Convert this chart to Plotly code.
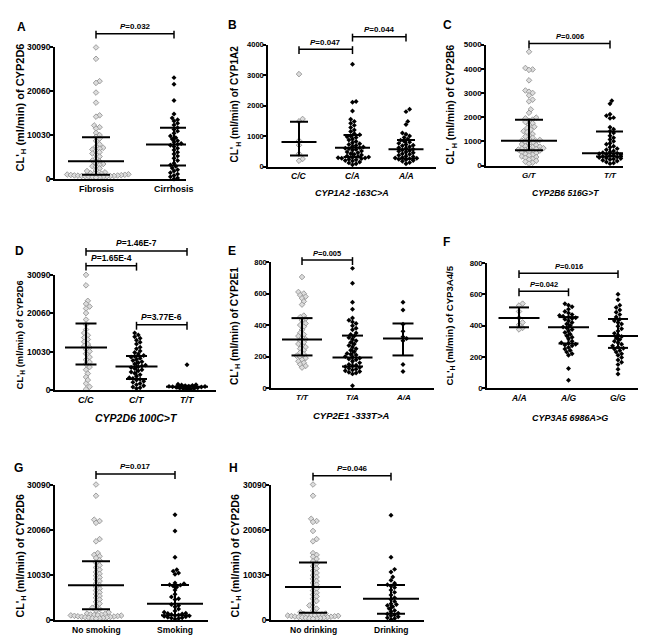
import plotly.graph_objects as go

# ---------------- DATA ----------------
# Panel A: CYP2D6 clearance by liver disease stage
a_cats = ["Fibrosis", "Cirrhosis"]
a_fibrosis = [30090, 27500, 22400, 22000, 19800, 17500, 14600, 14300, 12300, 11900, 11600, 10600, 10100, 9700,
              9300, 8800, 8000, 7500, 7200, 7000, 6800, 6500, 6200, 5900, 5600, 5200, 4800, 4300, 4100, 3700,
              3500, 3300, 3000, 2900, 2500, 2100, 1900, 1600, 1400, 1300, 1250, 1200, 1150, 1100, 1050, 1000,
              950, 900, 880, 850, 800, 780, 750, 700, 680, 650, 600, 550, 500, 450]
a_cirrhosis = [23200, 21700, 18000, 14900, 14000, 13600, 13300, 12800, 12400, 11800, 11400, 11000, 10500, 9900,
               9500, 9200, 8800, 8500, 8200, 8000, 7800, 7500, 7100, 6700, 6200, 5800, 5300, 4800, 4300, 3700,
               3300, 3000, 2600, 2200, 1900, 1500, 1200, 900, 600, 300, 100]
a_median = [4110, 7930]
a_q1 = [1050, 3140]
a_q3 = [9590, 11750]
a_pvals = ["0.032"]

# Panel B: CYP1A2 by -163C>A
b_cats = ["C/C", "C/A", "A/A"]
b_cc = [3030, 1560, 1480, 850, 700, 420, 250, 190]
b_ca = [3350, 2130, 2110, 1820, 1550, 1480, 1420, 1350, 1280, 1200, 1150, 1080, 1040, 1000, 980, 950, 900,
        870, 820, 780, 750, 720, 690, 660, 640, 620, 600, 580, 560, 540, 510, 480, 450, 420, 400, 380, 350,
        330, 310, 300, 290, 280, 270, 260, 240, 220, 200, 180, 150, 120, 90, 60]
b_aa = [1880, 1800, 1480, 1380, 1100, 1060, 1000, 950, 900, 860, 830, 800, 760, 720, 700, 680, 650, 620, 600,
        570, 540, 520, 500, 480, 450, 420, 400, 370, 340, 320, 300, 280, 270, 260, 240, 220, 200, 170, 130, 90]
b_median = [804, 620, 565]
b_q1 = [359, 315, 260]
b_q3 = [1467, 1033, 870]
b_pvals = ["0.047", "0.044"]

# Panel C: CYP2B6 by 516G>T
c_cats = ["G/T", "T/T"]
c_gt = [4700, 4030, 3970, 3950, 3520, 3100, 3050, 3000, 2900, 2720, 2650, 2320, 2180, 1980, 1950, 1900, 1850,
        1800, 1750, 1680, 1600, 1550, 1480, 1420, 1380, 1300, 1250, 1200, 1150, 1100, 1060, 1030, 1000, 980,
        950, 920, 880, 850, 800, 780, 760, 740, 720, 700, 680, 660, 640, 620, 600, 580, 550, 520, 480, 450,
        420, 380, 350, 320, 280, 250, 200, 160, 120, 80]
c_tt = [2680, 2550, 2120, 2060, 1980, 1950, 1580, 1500, 1420, 1350, 1230, 1150, 1080, 1000, 920, 880, 800,
        760, 700, 650, 600, 560, 530, 510, 490, 470, 450, 430, 410, 390, 370, 350, 330, 310, 290, 270, 250,
        220, 190, 150, 110, 80]
c_median = [1027, 513]
c_q1 = [635, 378]
c_q3 = [1890, 1405]
c_pvals = ["0.006"]

# Panel D: CYP2D6 by 100C>T
d_cats = ["C/C", "C/T", "T/T"]
d_cc = [30090, 27350, 23300, 22500, 21800, 21300, 20100, 18400, 17100, 15800, 14900, 14300, 13700, 13200,
        12600, 12000, 11500, 11100, 10600, 10100, 9500, 8600, 7900, 7300, 6800, 6000, 5300, 4300, 3400, 2600,
        1700, 850, 200]
d_ct = [14900, 14400, 13900, 13500, 13000, 12500, 12000, 11200, 10800, 10200, 9800, 9400, 9000, 8800, 8600,
        8300, 8000, 7700, 7400, 7100, 6800, 6500, 6300, 6100, 5900, 5600, 5300, 5000, 4700, 4400, 4000, 3600,
        3200, 3000, 2800, 2600, 2300, 2000, 1700, 1400, 1100, 800, 600, 400]
d_tt = [6600, 1500, 1400, 1300, 1200, 1100, 1000, 950, 900, 850, 800, 700, 600, 500, 400, 300, 200, 100]
d_median = [11115, 6155, 855]
d_q1 = [6670, 2907, 430]
d_q3 = [17360, 8890, 1110]
d_pvals = ["1.46E-7", "1.65E-4", "3.77E-6"]

# Panel E: CYP2E1 by -333T>A
e_cats = ["T/T", "T/A", "A/A"]
e_tt = [705, 610, 600, 590, 580, 570, 550, 530, 460, 450, 440, 430, 410, 400, 390, 370, 350, 340, 330, 320,
        310, 300, 290, 280, 270, 260, 250, 240, 225, 215, 205, 200, 190, 180, 170, 160, 150, 140, 130]
e_ta = [760, 665, 545, 500, 445, 430, 420, 410, 395, 380, 370, 350, 340, 330, 320, 310, 300, 290, 280, 270,
        260, 250, 240, 230, 220, 215, 210, 200, 195, 190, 185, 180, 170, 160, 150, 145, 140, 135, 130, 125,
        120, 115, 110, 105, 100, 95, 90, 15]
e_aa = [545, 495, 405, 360, 325, 315, 300, 150, 105]
e_median = [308, 194, 314]
e_q1 = [207, 137, 207]
e_q3 = [444, 333, 410]
e_pvals = ["0.005"]

# Panel F: CYP3A4/5 by CYP3A5 6986A>G
f_cats = ["A/A", "A/G", "G/G"]
f_aa = [540, 528, 490, 450, 420, 405, 385, 375]
f_ag = [540, 530, 520, 505, 490, 480, 470, 465, 460, 455, 450, 445, 440, 430, 420, 410, 400, 390, 385, 375,
        365, 355, 345, 335, 325, 315, 300, 290, 285, 280, 275, 270, 260, 250, 240, 230, 220, 210, 125, 50]
f_gg = [600, 565, 530, 515, 500, 485, 470, 455, 440, 430, 420, 410, 395, 380, 365, 350, 340, 330, 320, 310,
        300, 290, 280, 270, 262, 255, 250, 240, 230, 220, 210, 195, 180, 165, 150, 120, 90]
f_median = [448, 389, 333]
f_q1 = [389, 285, 257]
f_q3 = [516, 454, 442]
f_pvals = ["0.016", "0.042"]

# Panel G: CYP2D6 by smoking
g_cats = ["No smoking", "Smoking"]
g_no = [30090, 27600, 22300, 22000, 21600, 18000, 17500, 14900, 14500, 14200, 13800, 13300, 12800, 12200,
        11700, 11200, 10700, 10300, 9900, 9500, 9100, 8700, 8200, 7800, 7400, 7000, 6600, 6200, 5800, 5400,
        5000, 4600, 4100, 3700, 3200, 2800, 2500, 2200, 1800, 1500, 1400, 1300, 1250, 1200, 1150, 1100, 1050,
        1000, 950, 900, 850, 800, 750, 700, 650, 600, 550, 500, 450, 400]
g_yes = [23400, 19800, 14000, 11200, 10900, 10500, 10200, 8300, 8100, 7900, 7800, 7600, 7400, 6700, 5800,
         5200, 4800, 4600, 3500, 3300, 3000, 2500, 2100, 1800, 1600, 1500, 1400, 1300, 1200, 1100, 1000, 900,
         800, 700, 600, 500, 400, 300]
g_median = [7780, 3706]
g_q1 = [2472, 1155]
g_q3 = [13085, 7850]
g_pvals = ["0.017"]

# Panel H: CYP2D6 by drinking
h_cats = ["No drinking", "Drinking"]
h_no = [30090, 27600, 22500, 22000, 21800, 19800, 18000, 17500, 14900, 14500, 14100, 13600, 13100, 12600,
        12000, 11500, 11000, 10500, 10000, 9600, 9200, 8700, 8300, 7900, 7400, 7000, 6600, 6100, 5700, 5300,
        4800, 4300, 3800, 3300, 3000, 2600, 2200, 1800, 1500, 1400, 1300, 1250, 1200, 1150, 1100, 1050, 1000,
        950, 900, 850, 800, 750, 700, 650, 600, 550, 500, 450, 400, 350]
h_yes = [23300, 14000, 11300, 10700, 9600, 8900, 8200, 7900, 7600, 7300, 6700, 6200, 5600, 5000, 4600, 4200,
         3700, 3500, 3300, 3000, 2600, 2200, 1900, 1600, 1400, 1200, 1000, 800, 600, 400, 200]
h_median = [7415, 4800]
h_q1 = [1672, 1454]
h_q3 = [12795, 7850]
h_pvals = ["0.046"]

ticks_2d6 = [0, 10030, 20060, 30090]
ticks_1a2 = [0, 1000, 2000, 3000, 4000]
ticks_2b6 = [0, 1000, 2000, 3000, 4000, 5000]
ticks_800 = [0, 200, 400, 600, 800]

# ---------------- LAYOUT ----------------
W, H = 650, 640
FONT = "Arial, 'Liberation Sans', Helvetica, sans-serif"


def yt(enzyme):
    return "<b>CL'<sub>H</sub> (ml/min) of " + enzyme + "</b>"


panels = [
    dict(letter="A", letter_xy=(13, 14), groups=[a_fibrosis, a_cirrhosis], cats=a_cats, italic=False,
         med=a_median, q1=a_q1, q3=a_q3, ticks=ticks_2d6,
         left=47, right=178, bottom=169, top=35, cat0=88, catN=166,
         ytitle=yt("CYP2D6"), ytitle_xy=(12, 96), ytitle_size=11, xtitle=None,
         brackets=[(0, 1, 21, a_pvals[0])], tick_size=8.5, xtick_size=9, p_size=8, hm=28, hq=14),
    dict(letter="B", letter_xy=(224, 12), groups=[b_cc, b_ca, b_aa], cats=b_cats, italic=True,
         med=b_median, q1=b_q1, q3=b_q3, ticks=ticks_1a2,
         left=260, right=428, bottom=156, top=32, cat0=291, catN=398,
         ytitle=yt("CYP1A2"), ytitle_xy=(227, 93), ytitle_size=10,
         xtitle="CYP1A2 -163C>A", xtitle_xy=(344, 183), xtitle_size=9,
         brackets=[(0, 1, 36.7, b_pvals[0]), (1, 2, 24, b_pvals[1])], tick_size=7.5, xtick_size=8.5,
         p_size=8, hm=17.5, hq=9),
    dict(letter="C", letter_xy=(439, 12), groups=[c_gt, c_tt], cats=c_cats, italic=True,
         med=c_median, q1=c_q1, q3=c_q3, ticks=ticks_2b6,
         left=478, right=615, bottom=155, top=32, cat0=521, catN=602,
         ytitle=yt("CYP2B6"), ytitle_xy=(444, 93), ytitle_size=10.3,
         xtitle="CYP2B6 516G>T", xtitle_xy=(557, 183), xtitle_size=8.5,
         brackets=[(0, 1, 31, c_pvals[0])], tick_size=8, xtick_size=8, p_size=7.5, hm=28, hq=14),
    dict(letter="D", letter_xy=(11, 242), groups=[d_cc, d_ct, d_tt], cats=d_cats, italic=True,
         med=d_median, q1=d_q1, q3=d_q3, ticks=ticks_2d6,
         left=47, right=208, bottom=383, top=266, cat0=78, catN=179,
         ytitle=yt("CYP2D6"), ytitle_xy=(12, 327.5), ytitle_size=9.4,
         xtitle="CYP2D6 100C>T", xtitle_xy=(128, 411), xtitle_size=10.5,
         brackets=[(0, 2, 241.7, d_pvals[0]), (0, 1, 256.7, d_pvals[1]), (1, 2, 316.7, d_pvals[2])],
         tick_size=8.5, xtick_size=9, p_size=8.5, hm=21, hq=10.5),
    dict(letter="E", letter_xy=(224, 242), groups=[e_tt, e_ta, e_aa], cats=e_cats, italic=True,
         med=e_median, q1=e_q1, q3=e_q3, ticks=ticks_800,
         left=263, right=426, bottom=381, top=253, cat0=294, catN=395,
         ytitle=yt("CYP2E1"), ytitle_xy=(227.5, 317.5), ytitle_size=10.2,
         xtitle="CYP2E1 -333T>A", xtitle_xy=(343, 409), xtitle_size=9.5,
         brackets=[(0, 1, 251, e_pvals[0])], tick_size=7.5, xtick_size=8, p_size=7.5, hm=20, hq=10.5),
    dict(letter="F", letter_xy=(438, 233), groups=[f_aa, f_ag, f_gg], cats=f_cats, italic=True,
         med=f_median, q1=f_q1, q3=f_q3, ticks=ticks_800,
         left=479, right=630, bottom=381, top=254, cat0=511, catN=610,
         ytitle=yt("CYP3A4/5"), ytitle_xy=(442, 317.5), ytitle_size=9.6,
         xtitle="CYP3A5 6986A>G", xtitle_xy=(562, 411), xtitle_size=9,
         brackets=[(0, 2, 264.3, f_pvals[0]), (0, 1, 282.7, f_pvals[1])], tick_size=7.8, xtick_size=8.5,
         p_size=7.5, hm=20.5, hq=10),
    dict(letter="G", letter_xy=(10, 462), groups=[g_no, g_yes], cats=g_cats, italic=False,
         med=g_median, q1=g_q1, q3=g_q3, ticks=ticks_2d6,
         left=47, right=200, bottom=617, top=479, cat0=88, catN=167,
         ytitle=yt("CYP2D6"), ytitle_xy=(13, 552), ytitle_size=10.6, xtitle=None,
         brackets=[(0, 1, 468.3, g_pvals[0])], tick_size=8.5, xtick_size=8.5, p_size=8, hm=28, hq=14),
    dict(letter="H", letter_xy=(225, 462), groups=[h_no, h_yes], cats=h_cats, italic=False,
         med=h_median, q1=h_q1, q3=h_q3, ticks=ticks_2d6,
         left=263, right=416, bottom=617, top=479, cat0=305, catN=383,
         ytitle=yt("CYP2D6"), ytitle_xy=(228, 552), ytitle_size=10.6, xtitle=None,
         brackets=[(0, 1, 470, h_pvals[0])], tick_size=8.5, xtick_size=8.5, p_size=8, hm=28, hq=14),
]


def px_x(px):
    return px / W


def px_y(py):
    return 1 - py / H


def swarm(vals, px_per_unit, d):
    """Beeswarm layout: horizontal pixel offsets so markers do not overlap."""
    order = sorted(range(len(vals)), key=lambda i: vals[i])
    placed = []
    offs = [0.0] * len(vals)
    cands = [0.0]
    for s in range(1, 80):
        cands += [s * d / 2, -s * d / 2]
    for i in order:
        yp = vals[i] * px_per_unit
        near = [(xo, yo) for xo, yo in placed if abs(yo - yp) < d]
        for c in cands:
            if all((c - xo) ** 2 + (yp - yo) ** 2 >= (d * 0.98) ** 2 for xo, yo in near):
                offs[i] = c
                placed.append((c, yp))
                break
    return offs


fig = go.Figure()
annotations = []
shapes = []
layout_axes = {}

GREY_FILL = "#dcdcdc"
GREY_LINE = "#959595"

for k, p in enumerate(panels):
    sfx = "" if k == 0 else str(k + 1)
    xa, ya = "x" + sfx, "y" + sfx
    n = len(p["cats"])
    sp = (p["catN"] - p["cat0"]) / (n - 1)
    xr = [(p["left"] - p["cat0"]) / sp, (p["right"] - p["cat0"]) / sp]
    ymax = p["ticks"][-1]
    px_per_unit = (p["bottom"] - p["top"]) / ymax

    # points
    for gi, vals in enumerate(p["groups"]):
        offs = swarm(vals, px_per_unit, 3.6)
        xs = [gi + o / sp for o in offs]
        if gi == 0:
            mk = dict(symbol="diamond", size=4.3, color=GREY_FILL, line=dict(color=GREY_LINE, width=0.9))
        else:
            mk = dict(symbol="diamond", size=3.8, color="black", line=dict(width=0))
        fig.add_trace(go.Scatter(x=xs, y=vals, mode="markers", marker=mk, xaxis=xa, yaxis=ya,
                                 cliponaxis=False, hoverinfo="skip", showlegend=False))

    # median + interquartile range
    hm, hq = p["hm"] / sp, p["hq"] / sp
    lx, ly = [], []
    for gi in range(n):
        m, a, b = p["med"][gi], p["q1"][gi], p["q3"][gi]
        lx += [gi - hm, gi + hm, None, gi - hq, gi + hq, None, gi - hq, gi + hq, None, gi, gi, None]
        ly += [m, m, None, b, b, None, a, a, None, a, b, None]
    fig.add_trace(go.Scatter(x=lx, y=ly, mode="lines", line=dict(color="black", width=2),
                             xaxis=xa, yaxis=ya, cliponaxis=False, hoverinfo="skip", showlegend=False))

    layout_axes["xaxis" + sfx] = dict(
        domain=[px_x(p["left"]), px_x(p["right"])], range=xr, anchor=ya,
        showline=True, linecolor="black", linewidth=1.5, showgrid=False, zeroline=False,
        showticklabels=False, ticks="", fixedrange=True)
    layout_axes["yaxis" + sfx] = dict(
        domain=[px_y(p["bottom"]), px_y(p["top"])], range=[0, ymax], anchor=xa,
        showline=True, linecolor="black", linewidth=1.5, showgrid=False, zeroline=False,
        tickmode="array", tickvals=p["ticks"], ticktext=["<b>%d</b>" % t for t in p["ticks"]],
        ticks="outside", ticklen=3, tickwidth=1.5, tickcolor="black", ticklabelstandoff=-2,
        tickfont=dict(family=FONT, size=p["tick_size"], color="black"), fixedrange=True)

    # category labels
    for gi, c in enumerate(p["cats"]):
        txt = ("<b><i>%s</i></b>" % c) if p["italic"] else ("<b>%s</b>" % c)
        annotations.append(dict(x=gi, y=px_y(p["bottom"] + 10), xref=xa, yref="paper", xanchor="center",
                                yanchor="middle", text=txt, showarrow=False,
                                font=dict(family=FONT, size=p["xtick_size"], color="black")))
    # panel letter
    annotations.append(dict(x=px_x(p["letter_xy"][0]), y=px_y(p["letter_xy"][1]), xref="paper", yref="paper",
                            xanchor="center", yanchor="middle",
                            text="<b>%s</b>" % p["letter"], showarrow=False,
                            font=dict(family=FONT, size=12, color="black")))
    # y title
    annotations.append(dict(x=px_x(p["ytitle_xy"][0]), y=px_y(p["ytitle_xy"][1]), xref="paper", yref="paper",
                            xanchor="center", yanchor="middle",
                            text=p["ytitle"], textangle=-90, showarrow=False,
                            font=dict(family=FONT, size=p["ytitle_size"], color="black")))
    # x title
    if p["xtitle"]:
        annotations.append(dict(x=px_x(p["xtitle_xy"][0]), y=px_y(p["xtitle_xy"][1]), xref="paper",
                                yref="paper", xanchor="center", yanchor="middle",
                                text="<b><i>%s</i></b>" % p["xtitle"].replace(">", "&gt;"),
                                showarrow=False, font=dict(family=FONT, size=p["xtitle_size"], color="black")))
    # significance brackets
    for (i, j, by, pv) in p["brackets"]:
        shapes.append(dict(type="line", xref=xa, yref="paper", x0=i, x1=j, y0=px_y(by), y1=px_y(by),
                           line=dict(color="black", width=1.5)))
        for c in (i, j):
            shapes.append(dict(type="line", xref=xa, yref="paper", x0=c, x1=c, y0=px_y(by - 3), y1=px_y(by + 5),
                               line=dict(color="black", width=1.5)))
        annotations.append(dict(x=(i + j) / 2, y=px_y(by - 0.5), xref=xa, yref="paper", xanchor="center",
                                yanchor="bottom", text="<b><i>P</i>=%s</b>" % pv, showarrow=False,
                                font=dict(family=FONT, size=p["p_size"], color="black")))

fig.update_layout(width=W, height=H, margin=dict(l=0, r=0, t=0, b=0), paper_bgcolor="white",
                  plot_bgcolor="white", showlegend=False, annotations=annotations, shapes=shapes,
                  font=dict(family=FONT, color="black"), **layout_axes)

fig.write_html("out.html")
